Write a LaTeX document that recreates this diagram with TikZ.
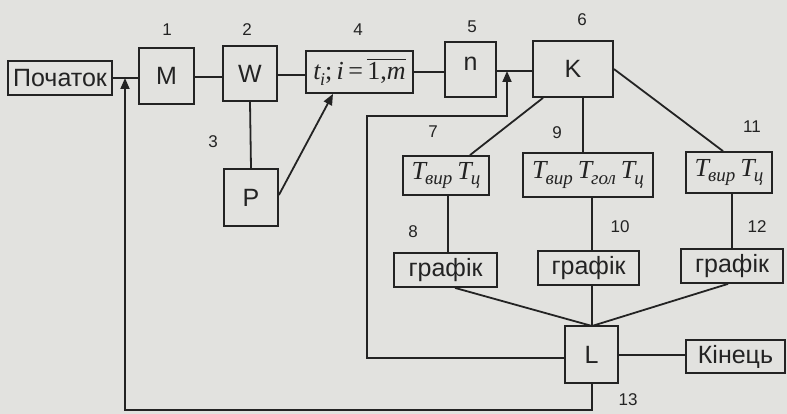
\documentclass[tikz,border=0pt]{standalone}
\usepackage{fontspec}
\setmainfont{Liberation Sans}
\newfontfamily\srf{Liberation Serif}
\usetikzlibrary{arrows.meta}
\definecolor{paper}{RGB}{226,226,223}
\definecolor{ink}{RGB}{35,35,35}
\tikzset{
  blk/.style={draw=ink, line width=1.8pt, inner sep=0pt, font=\fontsize{25}{27}\selectfont, text=ink},
  lbl/.style={font=\fontsize{17}{19}\selectfont, text=ink, inner sep=0pt},
  ln/.style={draw=ink, line width=1.8pt},
  arr/.style={ln, -{Triangle[length=11pt,width=9pt]}},
}
\newcommand{\Tsb}[1]{{\srf\itshape\fontsize{26}{28}\selectfont T\kern-1pt\raisebox{-0.22em}{\fontsize{19}{20}\selectfont #1}}}
\newcommand{\ovl}[1]{\leavevmode\vbox{\hrule height 1.3pt\kern2.5pt\hbox{#1}}}
\begin{document}
\begin{tikzpicture}[x=1pt,y=-1pt]
\useasboundingbox (0,0) rectangle (787,414);
\fill[paper] (0,0) rectangle (787,414);
% blocks
\node[blk, minimum width=104pt, minimum height=34pt] (st) at (60,78) {Початок};
\node[blk, minimum width=55pt, minimum height=56pt] (M) at (166.5,76) {M};
\node[blk, minimum width=54pt, minimum height=55pt] (W) at (250,73.5) {W};
\node[blk, minimum width=107pt, minimum height=42pt] (B4) at (359.5,72) {{\srf\itshape\fontsize{26}{28}\selectfont t\kern-0.5pt\raisebox{-0.22em}{\fontsize{18}{19}\selectfont i}\upshape;\,\itshape i\,\upshape=\,\ovl{1,\itshape m}}};
\node[blk, minimum width=54pt, minimum height=57pt] (P) at (251,197.5) {P};
\node[blk, minimum width=51pt, minimum height=55pt] (n) at (470.5,69.5) {\raisebox{0.45em}{n}};
\node[blk, minimum width=80pt, minimum height=56pt] (K) at (573,69) {K};
\node[blk, minimum width=86pt, minimum height=39pt] (B7) at (446,175.5) {\Tsb{вир}\hspace{5pt}\Tsb{ц}};
\node[blk, minimum width=130pt, minimum height=44pt] (B9) at (588,175) {\Tsb{вир}\hspace{5pt}\Tsb{гол}\hspace{5pt}\Tsb{ц}};
\node[blk, minimum width=86pt, minimum height=41pt] (B11) at (729,172.5) {\Tsb{вир}\hspace{5pt}\Tsb{ц}};
\node[blk, minimum width=103pt, minimum height=34pt] (G8) at (445.5,270) {графік};
\node[blk, minimum width=101pt, minimum height=34pt] (G10) at (588.5,268) {графік};
\node[blk, minimum width=102pt, minimum height=34pt] (G12) at (732,266) {графік};
\node[blk, minimum width=53pt, minimum height=57pt] (L) at (591.5,354.5) {L};
\node[blk, minimum width=99pt, minimum height=33pt] (E) at (735.5,356.5) {Кінець};
% labels
\node[lbl] (l1) at (167,30) {1};
\node[lbl] (l2) at (247,30) {2};
\node[lbl] (l3) at (213,142) {3};
\node[lbl] (l4) at (358,30) {4};
\node[lbl] (l5) at (472,27) {5};
\node[lbl] (l6) at (582,20) {6};
\node[lbl] (l7) at (433,132) {7};
\node[lbl] (l9) at (557,133) {9};
\node[lbl] (l11) at (752,127) {11};
\node[lbl] (l8) at (413,232) {8};
\node[lbl] (l10) at (620,227) {10};
\node[lbl] (l12) at (757,227) {12};
\node[lbl] (l13) at (628,400) {13};
% coordinates
\coordinate (j1) at (125,78);
\coordinate (j2) at (507,71);
\coordinate (b1) at (592,410);
\coordinate (b2) at (125,410);
\coordinate (f1) at (367,358);
\coordinate (f2) at (367,116);
\coordinate (f3) at (507,116);
\coordinate (Ltop) at (592,326);
% connectors
\draw[ln] (st.east |- 0,78) -- (M.west |- 0,78);
\draw[ln] (M.east |- 0,77) -- (W.west |- 0,77);
\draw[ln] (W.east |- 0,75) -- (B4.west |- 0,75);
\draw[ln] (B4.east |- 0,72) -- (n.west |- 0,72);
\draw[ln] (n.east |- 0,71) -- (K.west |- 0,71);
\draw[ln] (W.south) -- (P.north);
\draw[arr] (P.east |- 0,195) -- (B4.south -| 333,0);
\draw[ln] (K.south -| 543,0) -- (B7.north -| 470,0);
\draw[ln] (K.south -| 583,0) -- (B9.north -| 583,0);
\draw[ln] (K.east |- 0,69) -- (B11.north -| 723,0);
\draw[ln] (B7.south -| 448,0) -- (G8.north -| 448,0);
\draw[ln] (B9.south -| 592,0) -- (G10.north -| 592,0);
\draw[ln] (B11.south -| 732,0) -- (G12.north -| 732,0);
\draw[ln] (G8.south -| 455,0) -- (Ltop);
\draw[ln] (G10.south -| 592,0) -- (Ltop);
\draw[ln] (G12.south -| 728,0) -- (Ltop);
\draw[ln] (L.east |- 0,355) -- (E.west |- 0,355);
\draw[arr] (L.west |- f1) -- (f1) -- (f2) -- (f3) -- (j2);
\draw[arr] (L.south -| b1) -- (b1) -- (b2) -- (j1);
\end{tikzpicture}
\end{document}
